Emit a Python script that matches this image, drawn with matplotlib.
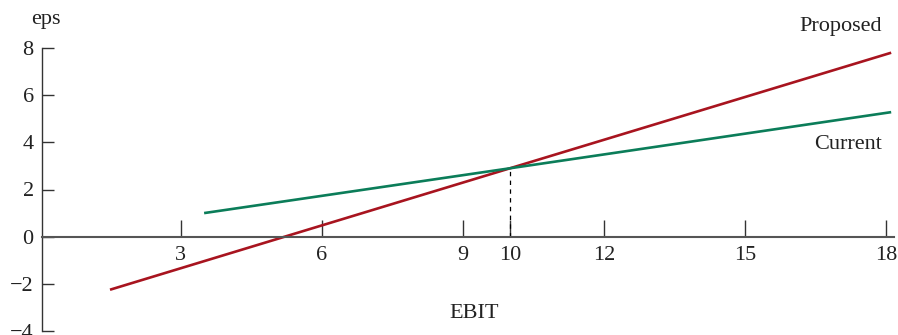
import matplotlib.pyplot as plt

# data
ebit_proposed = [1.5, 10, 18.1]
eps_proposed = [-2.25, 2.9, 7.8]
ebit_current = [3.5, 10, 18.1]
eps_current = [1.0, 2.9, 5.28]
break_even = (10, 2.9)
xtick_vals = [3, 6, 9, 10, 12, 15, 18]
ytick_vals = [-4, -2, 0, 2, 4, 6, 8]

plt.rcParams['font.family'] = ['Liberation Serif', 'DejaVu Serif']
plt.rcParams['font.size'] = 16

fig = plt.figure(figsize=(8.98, 3.35), dpi=100)
ax = fig.add_axes([42 / 898, 4 / 335, (894 - 42) / 898, (331 - 48) / 335])

ax.plot(ebit_proposed, eps_proposed, color='#a8141f', lw=1.9, solid_capstyle='butt')
ax.plot(ebit_current, eps_current, color='#0b7d59', lw=1.9, solid_capstyle='butt')
ax.plot([break_even[0], break_even[0]], [0, break_even[1]], color='black',
        lw=0.9, ls=(0, (3.5, 3.5)))

ax.set_xlim(0.055, 18.16)
ax.set_ylim(-4, 8)

axis_col = '#555555'
ax.spines['top'].set_visible(False)
ax.spines['right'].set_visible(False)
ax.spines['bottom'].set_position(('data', 0))
ax.spines['bottom'].set_color(axis_col)
ax.spines['left'].set_color('#333333')
ax.spines['bottom'].set_linewidth(1.5)
ax.spines['left'].set_linewidth(1.0)

ax.set_xticks(xtick_vals)
ax.set_yticks(ytick_vals)
ax.tick_params(axis='x', direction='in', length=12, width=1.0, color='#333333',
               pad=7, labelcolor='#222222')
ax.tick_params(axis='y', direction='in', length=8.5, width=1.0, color='#333333',
               pad=6, labelcolor='#222222')

ax.text(0.14, 9.2, 'eps', ha='center', va='center', color='#222222', clip_on=False)
ax.text(9.23, -3.24, 'EBIT', ha='center', va='center', color='#222222')
ax.text(17.9, 8.9, 'Proposed', ha='right', va='center', color='#222222', clip_on=False)
ax.text(17.9, 3.92, 'Current', ha='right', va='center', color='#222222')

fig.savefig('out.png', dpi=100)
